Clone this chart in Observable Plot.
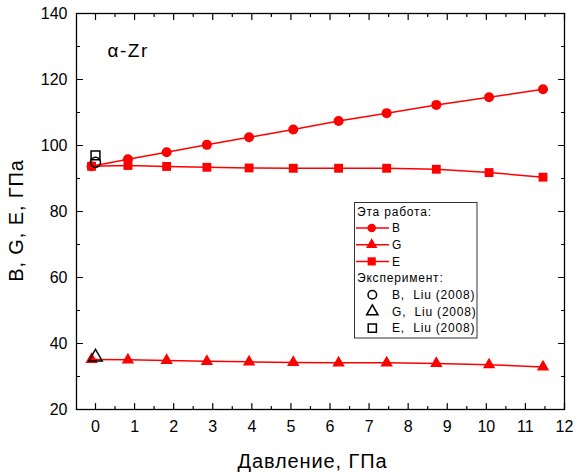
<!DOCTYPE html>
<html>
<head>
<meta charset="utf-8">
<script src="https://cdn.jsdelivr.net/npm/d3@7"></script>
<script src="https://cdn.jsdelivr.net/npm/@observablehq/plot@0.6"></script>
<style>
  body { margin: 0; background: #fff; }
  #chart { width: 575px; height: 473px; }
</style>
</head>
<body>
<div id="chart"></div>
<script>
// ---- data ----
const pressure = [-0.1, 0.83, 1.82, 2.85, 3.93, 5.06, 6.22, 7.45, 8.72, 10.07, 11.45];
const bulkB   = [93.7, 95.85, 97.97, 100.2, 102.5, 104.85, 107.4, 109.8, 112.3, 114.6, 117.05];
const shearG  = [35.15, 35.05, 34.85, 34.6, 34.45, 34.25, 34.15, 34.15, 33.95, 33.55, 32.9];
const youngE  = [93.7, 93.94, 93.65, 93.4, 93.2, 93.1, 93.1, 93.1, 92.8, 91.8, 90.4];
const seriesNames = ["B", "G", "E"];
const seriesSymbols = ["circle", "triangle", "square"];
const expPressure = [0, 0, 0];
const expValues = [94.9, 35.9, 97.0];
const expLabels = ["B,  Liu (2008)", "G,  Liu (2008)", "E,  Liu (2008)"];
const legendHeaders = ["Эта работа:", "Эксперимент:"];
const xTickLabels = [0, 1, 2, 3, 4, 5, 6, 7, 8, 9, 10, 11, 12];
const xMinorTicks = [0.5, 1.5, 2.5, 3.5, 4.5, 5.5, 6.5, 7.5, 8.5, 9.5, 10.5, 11.5];
const yTickLabels = [20, 40, 60, 80, 100, 120, 140];
const yMinorTicks = [30, 50, 70, 90, 110, 130];
const xTitle = "Давление, ГПа";
const yTitle = "B, G, E, ГПа";
const panelLabel = "α-Zr";

// ---- tables built from the arrays ----
const seriesValues = [bulkB, shearG, youngE];
const calc = seriesNames.map((name, s) =>
  pressure.map((p, i) => ({series: name, p, v: seriesValues[s][i]})));
const expTable = expPressure.map((p, i) => ({p, v: expValues[i], sym: seriesSymbols[i]}));

const FONT = "Arial, 'Liberation Sans', Helvetica, sans-serif";
const RED = "#ff0000";
const tickShape = {draw(ctx, l) { ctx.moveTo(0, 0); ctx.lineTo(0, -l); }};
const tickOpts = {shape: tickShape, anchor: "start", stroke: "black", strokeWidth: 1.2};

const markerR = {circle: 5, triangle: 4.6, square: 5};

const plot = Plot.plot({
  width: 575,
  height: 473,
  marginLeft: 76,
  marginRight: 11,
  marginTop: 13,
  marginBottom: 64,
  style: {fontFamily: FONT, fontSize: "16px", color: "black", background: "white"},
  x: {domain: [-0.486, 12]},
  y: {domain: [20, 140]},
  marks: [
    Plot.axisX({ticks: xTickLabels, tickSize: 0, tickPadding: 11, fontSize: 16, label: null}),
    Plot.axisY({ticks: yTickLabels, tickSize: 0, tickPadding: 9, fontSize: 16, label: null}),
    // inward ticks on all four sides
    Plot.vector(xTickLabels, {x: d => d, frameAnchor: "bottom", rotate: 0, length: 6, ...tickOpts}),
    Plot.vector(xMinorTicks, {x: d => d, frameAnchor: "bottom", rotate: 0, length: 3, ...tickOpts}),
    Plot.vector(xTickLabels, {x: d => d, frameAnchor: "top", rotate: 180, length: 6, ...tickOpts}),
    Plot.vector(xMinorTicks, {x: d => d, frameAnchor: "top", rotate: 180, length: 3, ...tickOpts}),
    Plot.vector(yTickLabels, {y: d => d, frameAnchor: "left", rotate: 90, length: 6, ...tickOpts}),
    Plot.vector(yMinorTicks, {y: d => d, frameAnchor: "left", rotate: 90, length: 3, ...tickOpts}),
    Plot.vector(yTickLabels, {y: d => d, frameAnchor: "right", rotate: -90, length: 6, ...tickOpts}),
    Plot.vector(yMinorTicks, {y: d => d, frameAnchor: "right", rotate: -90, length: 3, ...tickOpts}),
    Plot.frame({stroke: "black", strokeWidth: 1.3}),
    // calculated series
    ...calc.map(rows => Plot.line(rows, {x: "p", y: "v", stroke: RED, strokeWidth: 1.5})),
    ...calc.map((rows, s) => Plot.dot(rows, {
      x: "p", y: "v", symbol: seriesSymbols[s], r: markerR[seriesSymbols[s]],
      fill: RED, stroke: "none"
    })),
    // experiment
    Plot.dot(expTable, {x: "p", y: "v", symbol: "sym", r: 5, fill: "none", stroke: "black", strokeWidth: 1.5}),
    // texts
    Plot.text([panelLabel], {frameAnchor: "top-left", dx: 31, dy: 30, textAnchor: "start", lineAnchor: "top", fontSize: 19}),
    Plot.text([xTitle], {frameAnchor: "bottom", dx: -8, dy: 52, fontSize: 20, textAnchor: "middle", lineAnchor: "middle"}),
    Plot.text([yTitle], {frameAnchor: "left", dx: -60, dy: 9, rotate: -90, fontSize: 20, textAnchor: "middle", lineAnchor: "middle"})
  ]
});

document.getElementById("chart").appendChild(plot);

const svg = d3.select(plot);
// slightly wider letter spacing for the titles, as in the reference
svg.selectAll("text")
  .filter(function() { return [xTitle, yTitle].includes(this.textContent); })
  .style("letter-spacing", "0.9px");
svg.selectAll("text")
  .filter(function() { return this.textContent === panelLabel; })
  .style("letter-spacing", "1.5px");

// ---- legend ----
const lg = svg.append("g")
  .attr("font-family", FONT).attr("font-size", 12).attr("fill", "black")
  .attr("text-anchor", "start").style("letter-spacing", "0.8px");
lg.append("rect")
  .attr("x", 354.5).attr("y", 202.5).attr("width", 122.5).attr("height", 135.5)
  .attr("fill", "white").attr("stroke", "#333").attr("stroke-width", 1);

const rowY = i => 211.3 + i * 16.7;
const symType = {circle: d3.symbolCircle, triangle: d3.symbolTriangle, square: d3.symbolSquare};
const legendR = {circle: 4.3, triangle: 4.2, square: 4.6};
const entries = [
  {kind: "header", text: legendHeaders[0]},
  ...seriesNames.map((n, i) => ({kind: "calc", text: n, sym: seriesSymbols[i]})),
  {kind: "header", text: legendHeaders[1]},
  ...expLabels.map((t, i) => ({kind: "exp", text: t, sym: seriesSymbols[i]}))
];
entries.forEach((e, i) => {
  const y = rowY(i);
  if (e.kind === "header") {
    lg.append("text").attr("x", 357).attr("y", y).attr("dy", "0.35em").text(e.text);
    return;
  }
  const r = legendR[e.sym];
  const path = d3.symbol().type(symType[e.sym]).size(Math.PI * r * r)();
  if (e.kind === "calc") {
    lg.append("line").attr("x1", 356).attr("x2", 389).attr("y1", y).attr("y2", y)
      .attr("stroke", RED).attr("stroke-width", 1.5);
    lg.append("path").attr("d", path).attr("transform", `translate(371.7,${y})`).attr("fill", RED);
  } else {
    lg.append("path").attr("d", path).attr("transform", `translate(372.3,${y})`)
      .attr("fill", "none").attr("stroke", "black").attr("stroke-width", 1.5);
  }
  lg.append("text").attr("x", 392).attr("y", y).attr("dy", "0.35em").text(e.text);
});
</script>
</body>
</html>
